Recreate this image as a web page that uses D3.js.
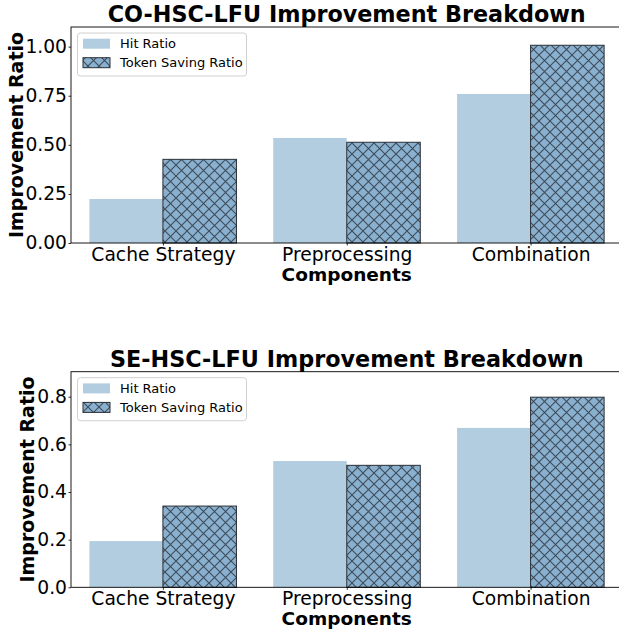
<!DOCTYPE html>
<html><head><meta charset="utf-8">
<script src="https://cdn.jsdelivr.net/npm/d3@7"></script>
<style>body{margin:0;background:#fff;} svg{display:block;font-family:"DejaVu Sans",sans-serif;}</style>
</head><body>
<svg id="chart" width="619" height="630"></svg>
<script>
const categories = ["Cache Strategy", "Preprocessing", "Combination"];
const seriesNames = ["Hit Ratio", "Token Saving Ratio"];
const coHit = [0.224, 0.535, 0.759];
const coToken = [0.426, 0.513, 1.007];
const seHit = [0.194, 0.530, 0.669];
const seToken = [0.341, 0.512, 0.798];
const coTicks = [0, 0.25, 0.5, 0.75, 1.0];
const seTicks = [0, 0.2, 0.4, 0.6, 0.8];

const FONT = "DejaVu Sans";
const svg = d3.select("#chart");
const defs = svg.append("defs");
const H = 11;
const pat = defs.append("pattern").attr("id","xhatch").attr("patternUnits","userSpaceOnUse")
  .attr("width",H).attr("height",H);
pat.append("rect").attr("width",H).attr("height",H).attr("fill","#8ab0cf");
pat.append("path").attr("d",`M0,0L${H},${H}M${H},0L0,${H}M-1,${H-1}L1,${H+1}M${H-1},-1L${H+1},1`)
  .attr("stroke","#2e3944").attr("stroke-width",1.1).attr("opacity",0.85);

const hitColor = "#b3cde0";

function panel(cfg){
  const g = svg.append("g");
  const x = d3.scaleLinear().domain([-0.5, 2.5]).range([cfg.left, cfg.right]);
  const y = d3.scaleLinear().domain([0, cfg.ymax]).range([cfg.bottom, cfg.top]);
  const w = 0.4;
  g.selectAll(".hit").data(cfg.hit).join("rect")
    .attr("x",(d,i)=>x(i-w)).attr("width",x(w)-x(0))
    .attr("y",d=>y(d)).attr("height",d=>y(0)-y(d)).attr("fill",hitColor);
  g.selectAll(".tok").data(cfg.token).join("rect")
    .attr("x",(d,i)=>x(i)).attr("width",x(w)-x(0))
    .attr("y",d=>y(d)).attr("height",d=>y(0)-y(d)).attr("fill","url(#xhatch)")
    .attr("stroke","#2a2f35").attr("stroke-width",1);
  const yAxis = d3.axisLeft(y).tickValues(cfg.ticks).tickFormat(d3.format(cfg.fmt)).tickSize(2.5).tickPadding(1.5);
  const ya = g.append("g").attr("transform",`translate(${cfg.left},0)`).call(yAxis)
    .attr("font-family",FONT).attr("font-size",18.7);
  ya.select(".domain").remove();
  ya.selectAll("text").attr("fill","#000");
  ya.selectAll("line").attr("stroke","#000").attr("stroke-width",0.8);
  const xAxis = d3.axisBottom(x).tickValues([0,1,2]).tickFormat(i=>categories[i]).tickSize(2.5).tickPadding(2);
  const xa = g.append("g").attr("transform",`translate(0,${cfg.bottom})`).call(xAxis)
    .attr("font-family",FONT).attr("font-size",18.7);
  xa.select(".domain").remove();
  xa.selectAll("text").attr("fill","#000");
  xa.selectAll("line").attr("stroke","#000").attr("stroke-width",0.8);
  g.append("rect").attr("x",cfg.left).attr("y",cfg.top).attr("width",cfg.right-cfg.left).attr("height",cfg.bottom-cfg.top)
    .attr("fill","none").attr("stroke","#000").attr("stroke-width",0.9);
  g.append("text").attr("x",(cfg.left+cfg.right)/2).attr("y",cfg.top-5).attr("text-anchor","middle")
    .attr("font-size",22.3).attr("font-weight","bold").text(cfg.title);
  g.append("text").attr("x",(cfg.left+cfg.right)/2).attr("y",cfg.bottom+38).attr("text-anchor","middle")
    .attr("font-size",18.5).attr("font-weight","bold").text("Components");
  g.append("text").attr("transform",`translate(${cfg.ylabX},${(cfg.top+cfg.bottom)/2}) rotate(-90)`)
    .attr("text-anchor","middle").attr("dominant-baseline","central")
    .attr("font-size",19).attr("font-weight","bold").text("Improvement Ratio");
  const lx = cfg.left+6.5, ly = cfg.top+6;
  const lg = g.append("g");
  lg.append("rect").attr("x",lx).attr("y",ly).attr("width",169).attr("height",43).attr("rx",3)
    .attr("fill","#fff").attr("fill-opacity",0.8).attr("stroke","#d0d0d0").attr("stroke-width",1);
  const fills = [hitColor, "url(#xhatch)"];
  seriesNames.forEach((n,i)=>{
    const cy = ly + 10.7 + i*19;
    lg.append("rect").attr("x",lx+5.5).attr("y",cy-5).attr("width",27).attr("height",10)
      .attr("fill",fills[i]).attr("stroke",i?"#2a2f35":"none").attr("stroke-width",1);
    lg.append("text").attr("x",lx+42.5).attr("y",cy).attr("dominant-baseline","central")
      .attr("font-size",13).text(n);
  });
}

panel({title:"CO-HSC-LFU Improvement Breakdown", hit:coHit, token:coToken, ticks:coTicks, fmt:".2f",
  left:71, right:622.5, top:27, bottom:243, ymax:1.1, ylabX:16});
panel({title:"SE-HSC-LFU Improvement Breakdown", hit:seHit, token:seToken, ticks:seTicks, fmt:".1f",
  left:71, right:622.5, top:371.7, bottom:587.3, ymax:0.905, ylabX:27});
</script>
</body></html>
